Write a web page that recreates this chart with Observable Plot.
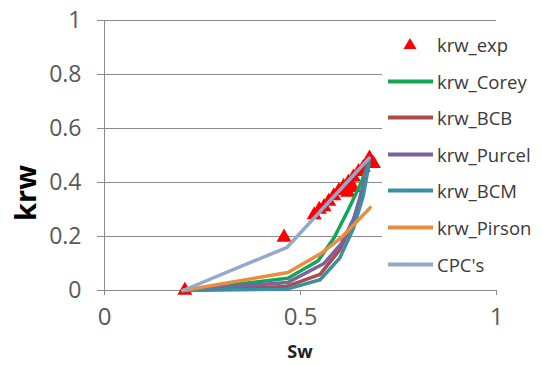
<!DOCTYPE html>
<html><head><meta charset="utf-8">
<script src="https://cdn.jsdelivr.net/npm/d3@7"></script>
<script src="https://cdn.jsdelivr.net/npm/@observablehq/plot@0.6"></script>
<style>
body{margin:0;background:#fff;}
#wrap{position:relative;width:542px;height:365px;font-family:"Open Sans",sans-serif;}
#legend{position:absolute;left:382px;top:26px;width:160px;height:257px;background:#fff;}
.row{position:absolute;left:0;height:37px;width:160px;display:flex;align-items:center;}
.row span{position:absolute;left:55px;font-size:18.5px;color:#3a3a3a;white-space:nowrap;}
.row svg{position:absolute;left:0;top:0;}
#ylab{position:absolute;left:24px;top:193px;transform:translate(-50%,-50%) rotate(-90deg);font-weight:bold;font-size:29px;color:#000;}
#xlab{position:absolute;left:300px;top:351px;transform:translate(-50%,-50%);font-weight:bold;font-size:18px;color:#222;}
</style></head>
<body><div id="wrap"></div>
<script>
// experimental points
const swExp = [0.205, 0.458, 0.535, 0.548, 0.56, 0.572, 0.585, 0.598, 0.61, 0.622, 0.635, 0.648, 0.66, 0.672, 0.676, 0.686, 0.621, 0.634];
const krwExp = [0, 0.197, 0.28, 0.30, 0.31, 0.33, 0.35, 0.37, 0.385, 0.40, 0.42, 0.44, 0.455, 0.47, 0.49, 0.47, 0.363, 0.381];

// model curves
const swCorey = [0.2, 0.468, 0.545, 0.586, 0.621, 0.655, 0.675];
const krwCorey = [0, 0.045, 0.11, 0.196, 0.296, 0.40, 0.48];
const swBCB = [0.2, 0.465, 0.55, 0.60, 0.635, 0.66, 0.675];
const krwBCB = [0, 0.015, 0.06, 0.15, 0.26, 0.38, 0.48];
const swPurcel = [0.2, 0.468, 0.56, 0.604, 0.637, 0.662, 0.675];
const krwPurcel = [0, 0.03, 0.10, 0.174, 0.27, 0.40, 0.49];
const swBCM = [0.2, 0.465, 0.55, 0.60, 0.635, 0.66, 0.675];
const krwBCM = [0, 0.005, 0.04, 0.12, 0.23, 0.35, 0.47];
const swPirson = [0.2, 0.468, 0.552, 0.604, 0.647, 0.678];
const krwPirson = [0, 0.067, 0.137, 0.196, 0.26, 0.307];
const swCPC = [0.2, 0.466, 0.675];
const krwCPC = [0, 0.16, 0.49];

const seriesNames = ["krw_Corey", "krw_BCB", "krw_Purcel", "krw_BCM", "krw_Pirson", "CPC's"];
const seriesColors = ["#14a555", "#a94c4a", "#7a62a3", "#3a8fa3", "#e98d3e", "#93a9cc"];
const seriesX = [swCorey, swBCB, swPurcel, swBCM, swPirson, swCPC];
const seriesY = [krwCorey, krwBCB, krwPurcel, krwBCM, krwPirson, krwCPC];

const yTicks = [0, 0.2, 0.4, 0.6, 0.8, 1];
const xTicks = [0, 0.5, 1];

const expData = swExp.map((s, i) => ({sw: s, krw: krwExp[i]}));
const lineMarks = seriesNames.map((n, k) =>
  Plot.line(seriesX[k].map((s, i) => ({sw: s, krw: seriesY[k][i]})),
    {x: "sw", y: "krw", stroke: seriesColors[k], strokeWidth: 3.5, strokeLinejoin: "round"}));

const fmt = d => String(+d.toFixed(1));
const chart = Plot.plot({
  width: 542, height: 365,
  marginLeft: 104, marginRight: 46, marginTop: 20, marginBottom: 75,
  style: {fontFamily: "'Open Sans', sans-serif", background: "transparent"},
  x: {domain: [0, 1]},
  y: {domain: [0, 1]},
  marks: [
    Plot.ruleY(yTicks.slice(1), {stroke: "#8a8a8a", strokeWidth: 1}),
    Plot.ruleY([0], {stroke: "#8a8a8a", strokeWidth: 1}),
    Plot.ruleX([0], {stroke: "#8a8a8a", strokeWidth: 1}),
    Plot.axisY({ticks: yTicks, tickFormat: fmt, tickSize: 7, tickPadding: 16, fontSize: 23, label: null, color: "#595959", stroke: "#8a8a8a"}),
    Plot.axisX({ticks: xTicks, tickFormat: fmt, tickSize: 5, tickPadding: 12, fontSize: 24, label: null, color: "#595959", stroke: "#8a8a8a"}),
    Plot.dot(expData, {x: "sw", y: "krw", symbol: "triangle", r: 5.6, fill: "#ff0000", stroke: "none"}),
    ...lineMarks
  ]
});
chart.querySelectorAll('[aria-label="y-axis tick"] path, [aria-label="x-axis tick"] path').forEach(p => p.setAttribute("stroke", "#8a8a8a"));

const wrap = document.getElementById("wrap");
wrap.appendChild(chart);

// legend
const legend = document.createElement("div");
legend.id = "legend";
const legendNames = ["krw_exp", ...seriesNames];
legendNames.forEach((n, i) => {
  const row = document.createElement("div");
  row.className = "row";
  row.style.top = (i * 36.6) + "px";
  let sw;
  if (i === 0) {
    sw = `<svg width="55" height="37"><path d="M28,12 L34.5,23 L21.5,23 Z" fill="#ff0000"/></svg>`;
  } else {
    sw = `<svg width="55" height="37"><line x1="6" x2="51" y1="18.5" y2="18.5" stroke="${seriesColors[i-1]}" stroke-width="4"/></svg>`;
  }
  row.innerHTML = sw + `<span>${n}</span>`;
  legend.appendChild(row);
});
wrap.appendChild(legend);

const yl = document.createElement("div"); yl.id = "ylab"; yl.textContent = "krw"; wrap.appendChild(yl);
const xl = document.createElement("div"); xl.id = "xlab"; xl.textContent = "Sw"; wrap.appendChild(xl);
</script></body></html>
